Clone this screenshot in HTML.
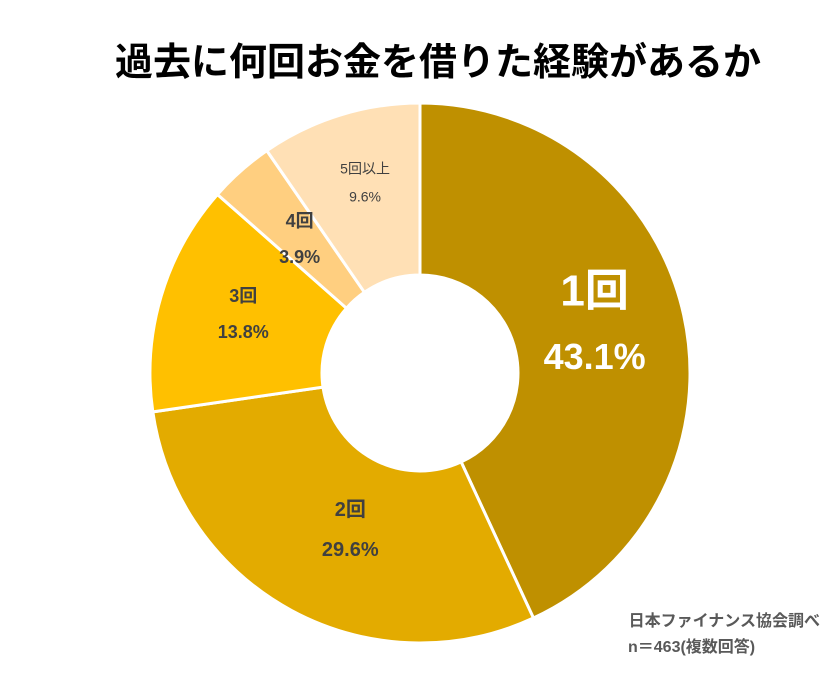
<!DOCTYPE html>
<html><head><meta charset="utf-8"><style>
body{margin:0;background:#fff;}
svg{display:block;font-family:"Liberation Sans","Noto Sans CJK JP",sans-serif;}
</style></head><body>
<svg width="840" height="675" viewBox="0 0 840 675">
<text x="438" y="75" text-anchor="middle" font-size="38" font-weight="bold" fill="#000">過去に何回お金を借りた経験があるか</text>
<g id="slices"></g>
<g id="labels"></g>
<text x="820" y="626" text-anchor="end" font-size="16" font-weight="bold" fill="#595959">日本ファイナンス協会調べ</text>
<text x="628" y="652" font-size="16" font-weight="bold" fill="#595959">n＝463(複数回答)</text>
</svg>
<script>
const categories=["1回","2回","3回","4回","5回以上"];
const values=[43.1,29.6,13.8,3.9,9.6];
const colors=["#BF9000","#E3AB00","#FFC000","#FFCF80","#FFE0B5"];
const cx=420,cy=373,R=270,r=98;
const NS="http://www.w3.org/2000/svg";
const total=values.reduce((a,b)=>a+b,0);
function pt(a,rad){return [cx+rad*Math.sin(a),cy-rad*Math.cos(a)];}
const sg=document.getElementById('slices'),lg=document.getElementById('labels');
const labelStyle=[
 {rf:0.72,dx:-42,dy:-2,size1:44,size2:36,fill:"#fff",w:"bold",gap:66},
 {rf:0.66,dx:31,dy:-30,size1:20,size2:20,fill:"#404040",w:"bold",gap:40},
 {rf:0.66,dx:26,dy:1,size1:18,size2:18,fill:"#404040",w:"bold",gap:36},
 {rf:0.66,dx:20,dy:24,size1:18,size2:18,fill:"#404040",w:"bold",gap:36},
 {rf:0.76,dx:13,dy:28,size1:14,size2:14,fill:"#404040",w:"normal",gap:28}];
let acc=0;
values.forEach((v,i)=>{
 const a0=acc/total*2*Math.PI;acc+=v;const a1=acc/total*2*Math.PI;
 const large=(a1-a0)>Math.PI?1:0;
 const [x0,y0]=pt(a0,R),[x1,y1]=pt(a1,R),[x2,y2]=pt(a1,r),[x3,y3]=pt(a0,r);
 const p=document.createElementNS(NS,'path');
 p.setAttribute('d',`M${x0},${y0}A${R},${R} 0 ${large} 1 ${x1},${y1}L${x2},${y2}A${r},${r} 0 ${large} 0 ${x3},${y3}Z`);
 p.setAttribute('fill',colors[i]);p.setAttribute('stroke','#fff');p.setAttribute('stroke-width','3');
 
 
 sg.appendChild(p);
 const s=labelStyle[i];const am=(a0+a1)/2;let [lx,ly]=pt(am,(r+(R-r)*s.rf));
 lx+=s.dx;ly+=s.dy;
 const t1=document.createElementNS(NS,'text');
 t1.setAttribute('x',lx);t1.setAttribute('y',ly-s.gap/2+s.size1*0.35);
 t1.setAttribute('text-anchor','middle');t1.setAttribute('font-size',s.size1);t1.setAttribute('font-weight',s.w);t1.setAttribute('fill',s.fill);
 t1.textContent=categories[i];
 
 
 lg.appendChild(t1);
 const t2=document.createElementNS(NS,'text');
 t2.setAttribute('x',lx);t2.setAttribute('y',ly+s.gap/2+s.size2*0.35);
 t2.setAttribute('text-anchor','middle');t2.setAttribute('font-size',s.size2);t2.setAttribute('font-weight',s.w);t2.setAttribute('fill',s.fill);
 t2.textContent=v.toFixed(1)+'%';
 
 
 lg.appendChild(t2);
});
</script>
</body></html>
